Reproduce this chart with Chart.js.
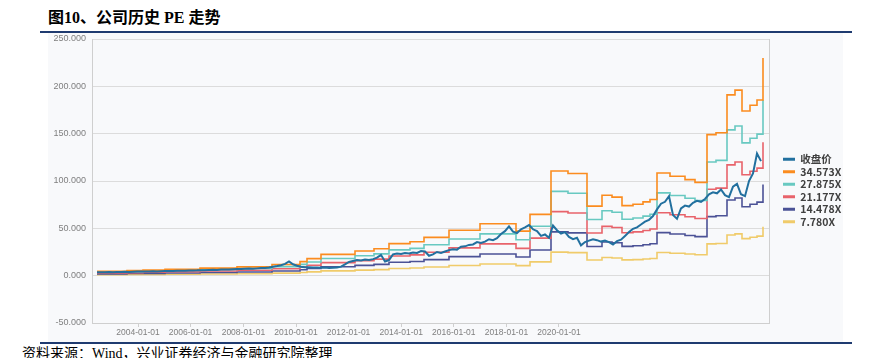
<!DOCTYPE html>
<html><head><meta charset="utf-8">
<script src="https://cdn.jsdelivr.net/npm/chart.js@4"></script>
<style>
html,body{margin:0;padding:0;background:#fff;width:870px;height:358px;overflow:hidden;position:relative;}
#title{position:absolute;left:48px;top:9px;font:bold 16px/18px "Liberation Serif","Noto Sans CJK SC",serif;color:#000;white-space:nowrap;}
.rule{position:absolute;left:40px;width:812px;height:2px;background:#1f3b70;}
#panel{position:absolute;left:48px;top:33px;width:795px;height:309px;background:#f8f9fb;}
#source{position:absolute;left:22px;top:346px;font:14px/16px "Liberation Serif","Noto Sans CJK SC",serif;color:#000;white-space:nowrap;}
canvas{display:block;}
</style></head><body>
<div id="title">图10、公司历史 PE 走势</div>
<div class="rule" style="top:31px"></div>
<div id="panel"><canvas id="c" width="795" height="309"></canvas></div>
<div class="rule" style="top:342px"></div>
<div id="source">资料来源：Wind，兴业证券经济与金融研究院整理</div>
<script>
// Series names
const seriesNames = ['收盘价','34.573X','27.875X','21.177X','14.478X','7.780X'];
// X tick labels and their positions (trading-period index)
const xTickLabels = ['2004-01-01','2006-01-01','2008-01-01','2010-01-01','2012-01-01','2014-01-01','2016-01-01','2018-01-01','2020-01-01'];
const xTickIdx = [10.25,23.4,36.6,49.75,62.9,76.05,89.2,102.35,115.5];
// Close price sampled at regular index steps
const closePrice = [3.5,3.6,3.6,3.8,3.7,3.9,4.0,4.1,4.0,4.2,
 4.3,4.4,4.3,4.5,4.6,4.5,4.7,4.9,5.0,4.9,
 5.1,5.3,5.2,5.4,5.5,5.6,5.8,5.7,6.0,6.2,
 6.1,6.4,6.6,6.5,6.8,7.1,7.0,7.3,7.5,7.4,
 7.7,8.0,8.2,8.6,9.5,10.2,11.0,12.5,15.0,12.0,
 10.5,9.5,9.0,8.8,8.5,8.6,8.3,8.5,8.2,8.4,
 8.6,9.5,12.0,14.5,15.5,16.5,16.0,17.0,16.5,17.5,
 19.0,22.0,15.0,16.5,22.5,23.5,23.0,24.0,23.5,24.5,
 24.0,26.0,25.5,21.0,22.5,25.0,24.0,25.5,27.0,28.0,
 27.5,30.5,31.0,32.5,33.0,35.5,34.5,36.0,38.5,37.5,
 39.5,44.0,47.0,52.0,46.5,45.0,49.0,51.0,53.5,49.0,
 47.0,42.0,43.5,40.0,53.0,48.0,44.5,46.0,41.0,38.5,
 40.0,32.0,35.5,37.0,38.5,37.5,36.0,37.0,35.5,33.0,
 36.5,38.0,42.0,46.0,49.5,51.0,54.0,57.0,59.0,63.0,
 70.0,76.0,78.0,84.0,64.0,60.0,71.0,74.0,73.0,77.0,
 79.0,78.0,81.0,86.0,88.0,87.0,91.0,85.0,83.0,94.0,
 97.0,86.0,84.0,100.0,108.0,129.0,121.0];
// PE band change points (index) and band levels
const bandIdx = [0,7.5,11.5,17,25.75,35,43.75,50.75,52.5,56,64.5,69.25,73,78.25,81.75,88,95.75,104.75,108.25,113.5,117.75,122.5,126.25,128.75,131.25,134,136.5,138.25,140,143.25,147,149.5,152.5,154.75,157.5,159.5,161.25,163.25,165,166.5];
const pe34 = [4.5,5.3,5.9,6.8,8.0,9.3,11.8,14.8,18.0,22.5,26.0,28.5,33.8,35.8,40.5,48.0,54.8,47.0,64.7,110.5,108.0,73.5,85.0,83.0,74.0,75.5,78.0,80.5,108.5,105.0,101.5,98.5,149.0,151.0,191.0,196.0,174.0,180.0,185.5,230.0];
const pe27 = [3.63,4.27,4.76,5.48,6.45,7.50,9.51,11.93,14.51,18.14,20.96,22.98,27.25,28.86,32.65,38.70,44.18,37.89,52.16,89.09,87.08,59.26,68.53,66.92,59.66,60.87,62.89,64.90,87.48,84.66,81.84,79.42,120.13,121.75,154.00,158.03,140.29,145.13,149.56,185.44];
const pe21 = [2.76,3.25,3.61,4.17,4.90,5.70,7.23,9.07,11.03,13.78,15.93,17.46,20.70,21.93,24.81,29.40,33.57,28.79,39.63,67.68,66.15,45.02,52.07,50.84,45.33,46.25,47.78,49.31,66.46,64.32,62.17,60.33,91.27,92.49,116.99,120.06,106.58,110.26,113.62,140.88];
const pe14 = [1.88,2.22,2.47,2.85,3.35,3.89,4.94,6.20,7.54,9.42,10.89,11.93,14.15,14.99,16.96,20.10,22.95,19.68,27.09,46.27,45.23,30.78,35.59,34.76,30.99,31.62,32.66,33.71,45.44,43.97,42.50,41.25,62.40,63.23,79.98,82.08,72.86,75.38,77.68,96.31];
const pe7 = [1.01,1.19,1.33,1.53,1.80,2.09,2.66,3.33,4.05,5.06,5.85,6.41,7.61,8.06,9.11,10.80,12.33,10.58,14.56,24.87,24.30,16.54,19.13,18.68,16.65,16.99,17.55,18.11,24.42,23.63,22.84,22.17,33.53,33.98,42.98,44.11,39.16,40.51,41.74,51.76];

const colors = ['#22709f','#fb8c1f','#68c9c1','#e8636b','#4b5296','#f0cb6a'];
const bands = [pe34, pe27, pe21, pe14, pe7];

const datasets = [{
  label: seriesNames[0],
  data: closePrice.map((v,i)=>({x:i,y:v})),
  borderColor: colors[0], backgroundColor: colors[0],
  borderWidth: 2, pointRadius: 0, tension: 0
}];
bands.forEach((b,j)=>{
  datasets.push({
    label: seriesNames[j+1],
    data: b.map((v,i)=>({x:bandIdx[i],y:v})),
    borderColor: colors[j+1], backgroundColor: colors[j+1],
    borderWidth: 1.6, pointRadius: 0, stepped: 'before'
  });
});

const legendWidth = {
  id: 'legendWidth',
  beforeInit(chart){
    const lg = chart.legend;
    if (lg) { const f = lg.fit; lg.fit = function(){ f.call(this); this.width = 62; }; }
  }
};

const gridC = '#dcdcdc';
new Chart(document.getElementById('c'), {
  type: 'line',
  data: { datasets },
  plugins: [legendWidth],
  options: {
    responsive: false, animation: false, devicePixelRatio: 1,
    layout: { padding: { top: 6, left: 0, right: 0, bottom: 0 } },
    plugins: {
      tooltip: { enabled: false },
      legend: {
        position: 'right',
        labels: {
          boxWidth: 12, boxHeight: 3, padding: 2, color: '#404040',
          font: { family: '"Noto Sans CJK SC","Noto Sans",sans-serif', size: 10.5, weight: 'bold' },
          generateLabels(chart){
            const items = Chart.defaults.plugins.legend.labels.generateLabels(chart);
            items.forEach(it=>{ it.lineWidth = 0; it.fillStyle = it.strokeStyle; });
            return items;
          }
        }
      }
    },
    scales: {
      x: {
        type: 'linear', min: -1.25, max: 168,
        afterFit(s){ s.height = 19; s.paddingLeft = 0; s.paddingRight = 0; },
        afterBuildTicks(s){ s.ticks = xTickIdx.map(v=>({value:v})); },
        grid: { display: true, drawOnChartArea: false, drawTicks: true, tickLength: 4, color: '#cfcfcf' },
        border: { display: true, color: '#cfcfcf' },
        ticks: {
          autoSkip: false, maxRotation: 0, padding: 1, color: '#7f7f7f',
          font: { family: '"Liberation Sans Narrow","Liberation Sans",sans-serif', size: 8.5 },
          callback(v, i){ return xTickLabels[i]; }
        }
      },
      y: {
        min: -50, max: 250,
        afterFit(s){ s.width = 44; s.paddingTop = 0; s.paddingBottom = 0; },
        grid: { color: gridC, drawTicks: false },
        border: { display: true, color: '#cfcfcf' },
        ticks: {
          stepSize: 50, padding: 6, color: '#7f7f7f',
          font: { family: '"Liberation Sans",sans-serif', size: 9 },
          callback(v){ return Number(v).toFixed(3); }
        }
      },
      y2: {
        position: 'right', min: -50, max: 250,
        afterFit(s){ s.width = 12; s.paddingTop = 0; s.paddingBottom = 0; },
        grid: { display: false },
        border: { display: true, color: '#cfcfcf' },
        ticks: { display: false }
      }
    }
  }
});
</script>
</body></html>
